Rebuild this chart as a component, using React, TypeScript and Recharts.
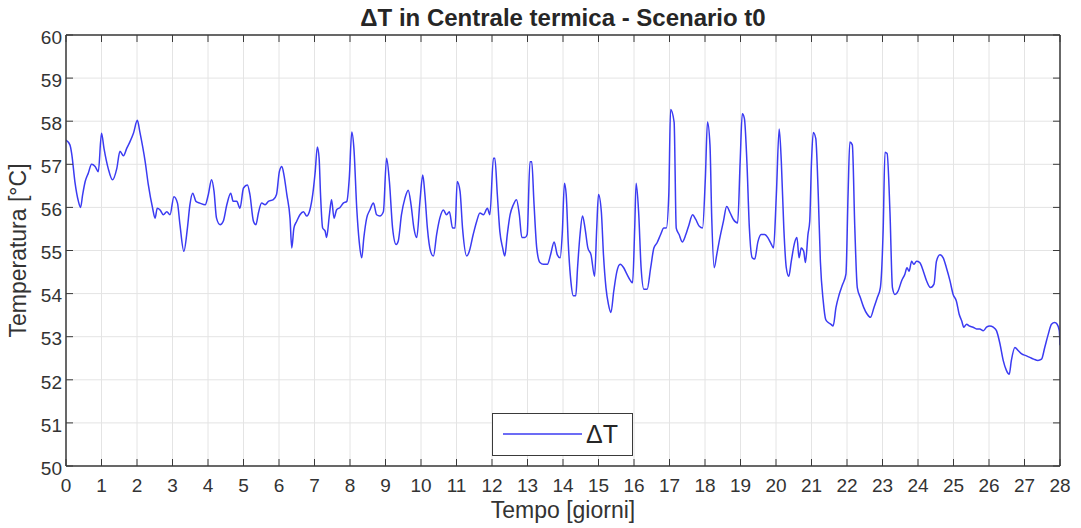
import React from 'react';
import { LineChart, Line, XAxis, YAxis, CartesianGrid, Legend } from 'recharts';

// ---- data ----
const days = [
  0.0, 0.11, 0.16, 0.25, 0.35, 0.41, 0.47, 0.54, 0.63, 0.72, 0.82, 0.91,
  1.0, 1.07, 1.19, 1.31, 1.43, 1.52, 1.62, 1.71, 1.8, 1.9,
  2.01, 2.08, 2.23, 2.32, 2.44, 2.51, 2.57, 2.65, 2.74, 2.84, 2.93,
  3.04, 3.14, 3.21, 3.32, 3.42, 3.49, 3.57, 3.66, 3.77, 3.92,
  4.01, 4.1, 4.17, 4.24, 4.34, 4.43, 4.53, 4.64, 4.71, 4.81, 4.9,
  5.0, 5.11, 5.18, 5.28, 5.35, 5.42, 5.51, 5.61, 5.7, 5.84, 5.93,
  6.01, 6.08, 6.14, 6.22, 6.31, 6.36, 6.42, 6.5, 6.59, 6.69, 6.78, 6.87, 6.95,
  7.02, 7.08, 7.13, 7.17, 7.23, 7.3, 7.34, 7.42, 7.48, 7.55, 7.62, 7.72, 7.81, 7.91, 7.98,
  8.05, 8.11, 8.19, 8.26, 8.33, 8.39, 8.47, 8.56, 8.66, 8.75, 8.84, 8.94,
  9.03, 9.11, 9.2, 9.3, 9.36, 9.45, 9.55, 9.64, 9.72, 9.8, 9.88, 9.97,
  10.05, 10.11, 10.18, 10.27, 10.35, 10.44, 10.53, 10.63, 10.72, 10.8, 10.89, 10.96,
  11.02, 11.1, 11.17, 11.29, 11.36, 11.47, 11.57, 11.66, 11.76, 11.87, 11.94,
  12.04, 12.08, 12.15, 12.22, 12.3, 12.36, 12.43, 12.51, 12.6, 12.69, 12.77, 12.84, 12.93, 12.99,
  13.07, 13.12, 13.18, 13.26, 13.35, 13.45, 13.56, 13.65, 13.75, 13.84, 13.92, 13.98,
  14.04, 14.09, 14.15, 14.22, 14.29, 14.36, 14.41, 14.48, 14.55, 14.62, 14.7, 14.79, 14.89, 14.95,
  15.0, 15.08, 15.14, 15.21, 15.28, 15.35, 15.43, 15.52, 15.61, 15.71, 15.8, 15.9, 15.96,
  16.02, 16.06, 16.13, 16.2, 16.28, 16.37, 16.47, 16.56, 16.65, 16.75, 16.84, 16.91, 16.98,
  17.03, 17.13, 17.19, 17.27, 17.36, 17.46, 17.55, 17.65, 17.74, 17.84, 17.93,
  18.01, 18.07, 18.14, 18.19, 18.26, 18.33, 18.42, 18.52, 18.61, 18.71, 18.8, 18.92, 18.99,
  19.05, 19.11, 19.18, 19.25, 19.33, 19.4, 19.49, 19.58, 19.68, 19.77, 19.87, 19.93,
  20.01, 20.09, 20.15, 20.22, 20.29, 20.36, 20.43, 20.53, 20.59, 20.65, 20.71, 20.78, 20.83, 20.9, 20.95,
  21.0, 21.05, 21.12, 21.19, 21.25, 21.33, 21.4, 21.47, 21.54, 21.61, 21.69, 21.78, 21.87, 21.97,
  22.03, 22.08, 22.15, 22.22, 22.29, 22.38, 22.47, 22.57, 22.66, 22.76, 22.85, 22.94,
  23.02, 23.07, 23.13, 23.21, 23.28, 23.35, 23.44, 23.54, 23.63, 23.69, 23.75, 23.82, 23.88, 23.96,
  24.05, 24.15, 24.24, 24.35, 24.45, 24.52, 24.62, 24.71, 24.8, 24.9, 24.99,
  25.08, 25.16, 25.23, 25.29, 25.37, 25.44, 25.55, 25.65, 25.74, 25.84, 25.93,
  26.02, 26.12, 26.21, 26.31, 26.4, 26.49, 26.57, 26.63, 26.73, 26.82, 26.92,
  27.04, 27.15, 27.26, 27.38, 27.48, 27.57, 27.67, 27.76, 27.85, 27.92, 27.98, 28.0,
];

const deltaT = [
  57.56, 57.45, 57.25, 56.6, 56.14, 56.0, 56.3, 56.6, 56.8, 57.0, 56.95, 56.83,
  57.72, 57.37, 56.9, 56.64, 56.9, 57.3, 57.2, 57.37, 57.52, 57.72,
  58.02, 57.75, 57.06, 56.52, 55.98, 55.75, 55.98, 55.94, 55.83, 55.9, 55.83,
  56.25, 56.1, 55.6, 54.98, 55.52, 56.06, 56.33, 56.14, 56.1, 56.06,
  56.3, 56.64, 56.37, 55.75, 55.6, 55.68, 56.06, 56.33, 56.14, 56.14, 55.98,
  56.45, 56.52, 56.3, 55.68, 55.6, 55.87, 56.1, 56.06, 56.14, 56.18, 56.3,
  56.83, 56.95, 56.75, 56.3, 55.75, 55.06, 55.52, 55.68, 55.83, 55.9, 55.8, 55.94, 56.3,
  56.83, 57.4, 57.14, 56.3, 55.52, 55.45, 55.3, 55.83, 56.18, 55.75, 55.94, 56.0, 56.1, 56.14, 56.68,
  57.75, 57.37, 55.98, 55.2, 54.83, 55.3, 55.75, 55.94, 56.1, 55.83, 55.8, 55.9,
  57.14, 56.6, 55.52, 55.14, 55.22, 55.83, 56.22, 56.4, 56.06, 55.52, 55.3, 56.14,
  56.75, 56.3, 55.52, 54.98, 54.87, 55.37, 55.75, 55.94, 55.83, 55.9, 55.52, 55.52,
  56.6, 56.37, 55.52, 54.87, 54.98, 55.37, 55.68, 55.87, 55.83, 55.98, 55.83,
  57.14, 57.14, 56.3, 55.45, 55.06, 54.87, 55.37, 55.83, 56.06, 56.18, 55.83, 55.3, 55.3, 55.37,
  57.06, 57.06, 56.14, 55.06, 54.72, 54.68, 54.68, 54.9, 55.2, 54.9, 54.83, 55.4,
  56.56, 56.3, 55.14, 54.3, 53.95, 53.95, 54.6, 55.37, 55.8, 55.52, 55.06, 54.9, 54.4, 55.52,
  56.3, 55.9, 54.9, 54.14, 53.75, 53.56, 54.06, 54.52, 54.68, 54.6, 54.45, 54.3, 54.25,
  55.52, 56.56, 55.9, 54.6, 54.1, 54.1, 54.6, 55.06, 55.18, 55.37, 55.52, 55.52, 56.3,
  58.27, 57.98, 55.52, 55.37, 55.2, 55.37, 55.6, 55.83, 55.72, 55.56, 55.52,
  56.68, 57.98, 57.45, 55.75, 54.6, 54.9, 55.3, 55.68, 56.02, 55.87, 55.72, 55.64, 57.06,
  58.17, 58.06, 57.06, 55.52, 54.83, 54.8, 55.2, 55.37, 55.37, 55.3, 55.14, 55.06,
  56.3, 57.82, 57.06, 55.52, 54.6, 54.4, 54.75, 55.2, 55.3, 54.83, 55.06, 54.98, 54.72, 55.37, 55.68,
  57.06, 57.74, 57.6, 56.3, 54.75, 53.83, 53.4, 53.33, 53.29, 53.25, 53.68, 53.98, 54.2, 54.45,
  56.3, 57.52, 57.45, 55.52, 54.14, 53.9, 53.68, 53.52, 53.45, 53.68, 53.9, 54.14,
  55.52, 57.28, 57.25, 55.9, 54.14, 53.98, 54.06, 54.3, 54.45, 54.6, 54.52, 54.75, 54.68, 54.75,
  54.72, 54.52, 54.3, 54.14, 54.22, 54.75, 54.9, 54.83, 54.6, 54.3, 53.98,
  53.83, 53.52, 53.37, 53.22, 53.29, 53.25, 53.22, 53.18, 53.18, 53.14, 53.22,
  53.25, 53.22, 53.14, 52.83, 52.45, 52.22, 52.13, 52.45, 52.75, 52.68, 52.6,
  52.56, 52.52, 52.48, 52.45, 52.48, 52.75, 53.06, 53.29, 53.33, 53.29, 53.14, 52.8,
];

const xTicks = [0, 1, 2, 3, 4, 5, 6, 7, 8, 9, 10, 11, 12, 13, 14, 15, 16, 17, 18, 19, 20, 21, 22, 23, 24, 25, 26, 27, 28];
const yTicks = [50, 51, 52, 53, 54, 55, 56, 57, 58, 59, 60];

const TITLE = 'ΔT in Centrale termica - Scenario t0';
const X_LABEL = 'Tempo [giorni]';
const Y_LABEL = 'Temperatura [°C]';
const SERIES_NAME = 'ΔT';

const data = days.map((d, i) => ({ day: d, dt: deltaT[i] }));

// ---- styles ----
const FONT = '"Liberation Sans", Arial, Helvetica, sans-serif';
const AXIS_COLOR = '#3a3a3a';
const TEXT_COLOR = '#333333';
const LINE_COLOR = '#3b3bf2';
const TICK_LEN = 7;
const TICK_FONT = 19;

const BottomTick = (props: any) => {
  const { x, y, payload } = props;
  return (
    <g>
      <line x1={x} x2={x} y1={y} y2={y - TICK_LEN} stroke={AXIS_COLOR} strokeWidth={1} />
      <text x={x} y={y + 13} dy="0.71em" textAnchor="middle" fontSize={TICK_FONT} fontFamily={FONT} fill={TEXT_COLOR}>
        {payload.value}
      </text>
    </g>
  );
};

const TopTick = (props: any) => {
  const { x, y } = props;
  return <line x1={x} x2={x} y1={y} y2={y + TICK_LEN} stroke={AXIS_COLOR} strokeWidth={1} />;
};

const LeftTick = (props: any) => {
  const { x, y, payload } = props;
  return (
    <g>
      <line x1={x} x2={x + TICK_LEN} y1={y} y2={y} stroke={AXIS_COLOR} strokeWidth={1} />
      <text x={x - 4} y={y + 2} dy="0.355em" textAnchor="end" fontSize={TICK_FONT} fontFamily={FONT} fill={TEXT_COLOR}>
        {payload.value}
      </text>
    </g>
  );
};

const RightTick = (props: any) => {
  const { x, y } = props;
  return <line x1={x} x2={x - TICK_LEN} y1={y} y2={y} stroke={AXIS_COLOR} strokeWidth={1} />;
};

const LegendBox = () => (
  <div
    style={{
      width: 141,
      height: 43,
      boxSizing: 'border-box',
      border: `1.5px solid ${AXIS_COLOR}`,
      background: '#ffffff',
    }}
  >
    <svg width={138} height={40} style={{ display: 'block' }}>
      <line x1={10} x2={89} y1={20} y2={20} stroke={LINE_COLOR} strokeWidth={1.5} />
      <text x={93} y={20} dy="0.36em" fontSize={25} fontFamily={FONT} fill="#262626">
        {SERIES_NAME}
      </text>
    </svg>
  </div>
);

export default function App() {
  return (
    <div style={{ position: 'absolute', left: 0, top: 0, width: 1081, height: 528, background: '#ffffff' }}>
      <LineChart
        width={1081}
        height={528}
        data={data}
        margin={{ top: 34, right: 20, bottom: 32, left: 0 }}
      >
        <CartesianGrid stroke="#e4e4e4" strokeWidth={1} />
        <XAxis
          dataKey="day"
          type="number"
          domain={[0, 28]}
          ticks={xTicks}
          interval={0}
          allowDataOverflow
          height={30}
          tickSize={0}
          tickMargin={0}
          tickLine={false}
          axisLine={{ stroke: AXIS_COLOR, strokeWidth: 1.5 }}
          tick={<BottomTick />}
          label={{
            value: X_LABEL,
            position: 'bottom',
            offset: 6,
            fontSize: 23,
            fontFamily: FONT,
            fill: TEXT_COLOR,
          }}
        />
        <XAxis
          xAxisId="top"
          orientation="top"
          dataKey="day"
          type="number"
          domain={[0, 28]}
          ticks={xTicks}
          interval={0}
          allowDataOverflow
          height={1}
          tickSize={0}
          tickMargin={0}
          tickLine={false}
          axisLine={{ stroke: AXIS_COLOR, strokeWidth: 1.5 }}
          tick={<TopTick />}
          label={{
            value: TITLE,
            position: 'top',
            offset: 8,
            fontSize: 24,
            fontWeight: 'bold',
            fontFamily: FONT,
            fill: '#262626',
          }}
        />
        <YAxis
          type="number"
          domain={[50, 60]}
          ticks={yTicks}
          interval={0}
          allowDataOverflow
          width={66}
          tickSize={0}
          tickMargin={0}
          tickLine={false}
          axisLine={{ stroke: AXIS_COLOR, strokeWidth: 1.5 }}
          tick={<LeftTick />}
          label={{
            value: Y_LABEL,
            angle: -90,
            position: 'insideLeft',
            offset: 18,
            fontSize: 23,
            fontFamily: FONT,
            fill: TEXT_COLOR,
            style: { textAnchor: 'middle' },
          }}
        />
        <YAxis
          yAxisId="right"
          orientation="right"
          type="number"
          domain={[50, 60]}
          ticks={yTicks}
          interval={0}
          allowDataOverflow
          width={1}
          tickSize={0}
          tickMargin={0}
          tickLine={false}
          axisLine={{ stroke: AXIS_COLOR, strokeWidth: 1.5 }}
          tick={<RightTick />}
        />
        <Legend
          layout="vertical"
          align="center"
          verticalAlign="middle"
          content={<LegendBox />}
          wrapperStyle={{ left: 492, top: 413, width: 141, height: 43 }}
        />
        <Line
          type="monotone"
          dataKey="dt"
          name={SERIES_NAME}
          stroke={LINE_COLOR}
          strokeWidth={1.5}
          dot={false}
          activeDot={false}
          isAnimationActive={false}
        />
      </LineChart>
    </div>
  );
}
